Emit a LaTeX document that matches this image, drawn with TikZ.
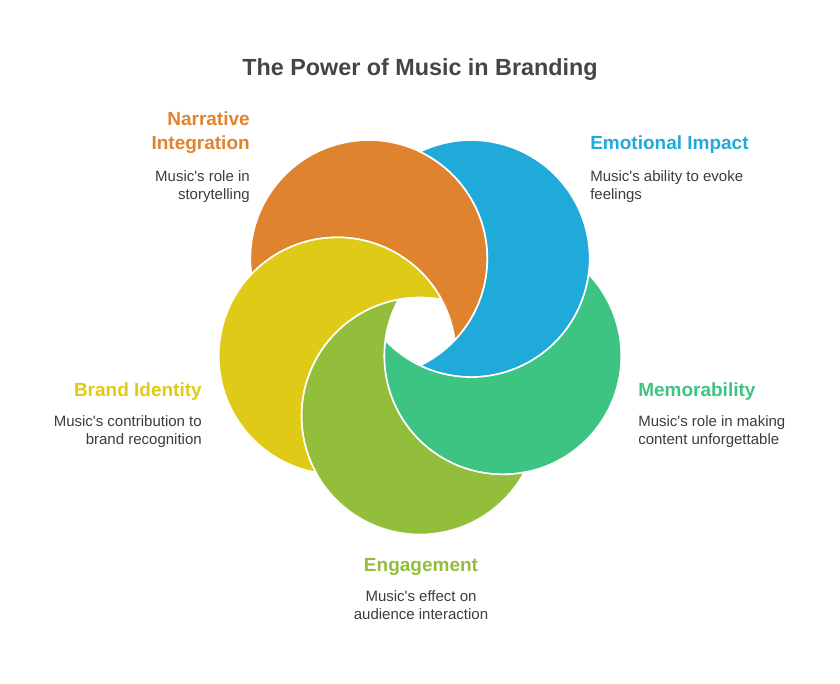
\documentclass[tikz,border=0pt]{standalone}
\usepackage{fontspec}
\setmainfont{Liberation Sans}
\usetikzlibrary{positioning, calc}
\definecolor{clrnarrative}{HTML}{E0832F}
\definecolor{clremotion}{HTML}{1FAAD9}
\definecolor{clrmemory}{HTML}{3DC483}
\definecolor{clrengage}{HTML}{93BE3B}
\definecolor{clrbrand}{HTML}{DFCB17}
\definecolor{clrtitle}{HTML}{454545}
\definecolor{clrtext}{HTML}{3C3C3C}

\begin{document}
\begin{tikzpicture}[
    x=0.75pt, y=0.75pt,
    every node/.style={inner sep=0pt},
    crescent/.style={draw=white, line width=1.2pt},
    title/.style={font=\fontsize{17.5}{21}\selectfont\bfseries, text=clrtitle},
    heading/.style={font=\fontsize{14.25}{18}\selectfont\bfseries},
    desc/.style={font=\fontsize{11.25}{13.5}\selectfont, text=clrtext},
]
\useasboundingbox (0,0) rectangle (840,684);
\node[title, anchor=base] (n_0) at (420,608) {The Power of Music in Branding};
\coordinate (c_0) at (420,355);
\filldraw[crescent, fill=clrnarrative] ($(c_0)+(126:87)+(187.56:118.5)$) arc[start angle=187.56, end angle=-43.57, radius=118.5] arc[start angle=7.56, end angle=136.43, radius=118.5] -- cycle;
\filldraw[crescent, fill=clremotion] ($(c_0)+(54:87)+(115.56:118.5)$) arc[start angle=115.56, end angle=-115.57, radius=118.5] arc[start angle=-64.44, end angle=64.43, radius=118.5] -- cycle;
\filldraw[crescent, fill=clrmemory] ($(c_0)+(-18:87)+(43.56:118.5)$) arc[start angle=43.56, end angle=-187.57, radius=118.5] arc[start angle=-136.44, end angle=-7.57, radius=118.5] -- cycle;
\filldraw[crescent, fill=clrengage] ($(c_0)+(-90:87)+(-28.44:118.5)$) arc[start angle=-28.44, end angle=-259.57, radius=118.5] arc[start angle=-208.44, end angle=-79.57, radius=118.5] -- cycle;
\filldraw[crescent, fill=clrbrand] ($(c_0)+(-162:87)+(-100.44:118.5)$) arc[start angle=-100.44, end angle=-331.57, radius=118.5] arc[start angle=-280.44, end angle=-151.57, radius=118.5] -- cycle;
\node[heading, text=clrnarrative, align=right, anchor=base east] (n_1) at (250,534) {Narrative\\Integration};
\node[desc, align=right, below=37pt of n_1.base east, anchor=base east] (n_2) {Music\textquotesingle s role in\\storytelling};
\node[heading, text=clremotion, anchor=base west] (n_3) at (590,534) {Emotional Impact};
\node[desc, align=left, below=37.5pt of n_3.base west, anchor=base west] (n_4) {Music\textquotesingle s ability to evoke\\feelings};
\node[heading, text=clrmemory, anchor=base west] (n_5) at (638,287) {Memorability};
\node[desc, align=left, below=36pt of n_5.base west, anchor=base west] (n_6) {Music\textquotesingle s role in making\\content unforgettable};
\node[heading, text=clrengage, anchor=base] (n_7) at (421,112) {Engagement};
\node[desc, align=center, below=35.5pt of n_7.base, anchor=base] (n_8) {Music\textquotesingle s effect on\\audience interaction};
\node[heading, text=clrbrand, anchor=base east] (n_9) at (202,287) {Brand Identity};
\node[desc, align=right, below=36pt of n_9.base east, anchor=base east] (n_10) {Music\textquotesingle s contribution to\\brand recognition};
\end{tikzpicture}
\end{document}
